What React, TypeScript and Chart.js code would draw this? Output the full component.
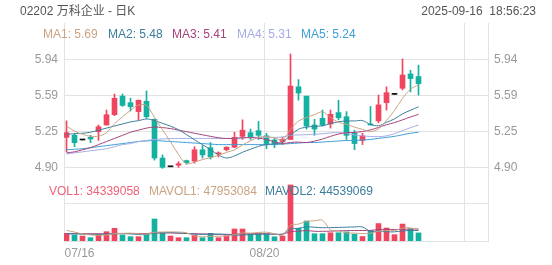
import React, { useEffect, useRef } from 'react';
import { Chart, registerables } from 'chart.js';

Chart.register(...registerables);

const dates = ['07/16','07/17','07/18','07/21','07/22','07/23','07/24','07/25','07/28','07/29','07/30','07/31','08/01','08/04','08/05','08/06','08/07','08/08','08/11','08/12','08/13','08/14','08/15','08/18','08/19','08/20','08/21','08/22','08/25','08/26','08/27','08/28','08/29','09/01','09/02','09/03','09/04','09/05','09/08','09/09','09/10','09/11','09/12','09/15','09/16'];

const opens = [5.19,5.21,5.165,5.19,5.245,5.31,5.41,5.59,5.526,5.44,5.54,5.365,4.99,4.905,4.92,4.965,4.96,5.07,5.09,5.03,5.07,5.095,5.2,5.235,5.255,5.205,5.165,5.15,5.17,5.68,5.59,5.31,5.375,5.32,5.43,5.39,5.23,5.16,5.32,5.35,5.526,5.607,5.666,5.805,5.78];
const highs = [5.35,5.23,5.165,5.21,5.31,5.455,5.61,5.61,5.57,5.552,5.64,5.37,5.02,4.905,4.955,4.97,5.1,5.11,5.14,5.05,5.1,5.24,5.36,5.27,5.345,5.23,5.18,5.19,5.998,5.75,5.59,5.365,5.455,5.455,5.55,5.44,5.26,5.23,5.49,5.6,5.68,5.607,5.95,5.84,5.89];
const lows = [5.05,5.1,5.165,5.14,5.16,5.31,5.4,5.49,5.445,5.36,5.375,4.97,4.89,4.905,4.9,4.93,4.94,4.99,4.98,5.0,5.06,5.09,5.17,5.17,5.17,5.08,5.09,5.12,5.17,5.55,5.27,5.21,5.3,5.28,5.36,5.17,5.07,5.12,5.31,5.33,5.455,5.607,5.65,5.63,5.6];
const closes = [5.236,5.139,5.165,5.175,5.293,5.41,5.569,5.5,5.487,5.55,5.39,4.99,4.9,4.905,4.935,4.945,5.07,5.02,5.0,5.04,5.095,5.19,5.26,5.195,5.21,5.13,5.13,5.17,5.688,5.62,5.3,5.27,5.31,5.414,5.38,5.21,5.13,5.205,5.31,5.505,5.623,5.607,5.795,5.76,5.71];

const volumes = [32.7e6,25.5e6,21e6,14e6,28e6,39.6e6,54e6,25.5e6,18.4e6,18.4e6,28e6,93.5e6,32.7e6,21e6,14e6,14e6,25.5e6,14e6,32.7e6,14e6,22.5e6,51e6,51e6,28.5e6,28.5e6,28.5e6,18e6,21e6,238e6,54e6,85e6,31e6,31e6,35e6,35e6,38.6e6,29e6,19e6,45e6,74e6,55e6,27e6,72e6,51.5e6,34339058];

const ma1 = [5.30,5.25,5.22,5.20,5.202,5.236,5.322,5.389,5.452,5.503,5.499,5.383,5.263,5.147,5.024,4.935,4.951,4.975,4.994,5.015,5.045,5.069,5.117,5.156,5.19,5.197,5.185,5.167,5.266,5.348,5.382,5.41,5.438,5.383,5.335,5.317,5.289,5.268,5.247,5.272,5.355,5.45,5.568,5.658,5.699];
const ma2 = [5.22,5.225,5.23,5.24,5.26,5.28,5.30,5.32,5.34,5.352,5.368,5.353,5.326,5.299,5.264,5.217,5.167,5.119,5.071,5.02,4.99,5.01,5.046,5.075,5.103,5.121,5.127,5.142,5.211,5.269,5.289,5.297,5.302,5.324,5.341,5.349,5.349,5.353,5.315,5.303,5.336,5.369,5.418,5.453,5.486];
const ma3 = [5.04,5.05,5.07,5.09,5.12,5.15,5.18,5.21,5.24,5.26,5.28,5.29,5.285,5.275,5.26,5.245,5.23,5.215,5.2,5.186,5.179,5.181,5.186,5.187,5.183,5.169,5.147,5.131,5.141,5.144,5.14,5.154,5.174,5.2,5.222,5.235,5.238,5.247,5.263,5.286,5.313,5.333,5.36,5.388,5.413];
const ma4 = [5.03,5.04,5.05,5.06,5.07,5.08,5.1,5.12,5.13,5.15,5.16,5.17,5.175,5.178,5.18,5.18,5.18,5.18,5.18,5.18,5.18,5.18,5.185,5.19,5.19,5.19,5.19,5.195,5.21,5.214,5.216,5.22,5.225,5.233,5.236,5.229,5.214,5.205,5.199,5.197,5.205,5.226,5.255,5.284,5.31];
const ma5 = [5.07,5.075,5.08,5.09,5.1,5.11,5.12,5.13,5.14,5.15,5.155,5.16,5.155,5.15,5.145,5.14,5.135,5.13,5.125,5.12,5.12,5.12,5.12,5.12,5.12,5.12,5.12,5.125,5.13,5.135,5.14,5.14,5.145,5.15,5.155,5.16,5.16,5.165,5.17,5.18,5.19,5.2,5.215,5.23,5.24];

const mavol1 = [45e6,38e6,30e6,26e6,24.2e6,25.6e6,31.3e6,32.2e6,33.1e6,31.2e6,28.9e6,36.8e6,38.2e6,38.7e6,37.8e6,35e6,21.4e6,17.7e6,20e6,20e6,21.7e6,26.8e6,34.2e6,33.4e6,36.3e6,37.5e6,30.9e6,24.9e6,66.8e6,71.9e6,83.2e6,85.8e6,87.8e6,47.2e6,43.4e6,34.1e6,33.7e6,31.3e6,33.3e6,41.1e6,44.4e6,44e6,54.6e6,55.9e6,47953084];
const mavol2 = [30e6,30e6,29e6,28e6,28e6,29e6,30e6,31e6,30e6,27.7e6,27.2e6,34e6,35.2e6,35.9e6,34.5e6,32e6,29.1e6,28e6,29.4e6,28.9e6,28.4e6,24.1e6,26e6,26.7e6,28.2e6,29.6e6,28.9e6,29.6e6,50.1e6,54.1e6,60.4e6,58.4e6,56.4e6,57e6,57.7e6,58.7e6,59.8e6,59.6e6,40.3e6,42.3e6,39.3e6,38.9e6,43e6,44.6e6,44539069];
const mavol3 = [32e6,32e6,31e6,31e6,31e6,31e6,32e6,32e6,32e6,32e6,32e6,34e6,34e6,34e6,33e6,32e6,31e6,30e6,29e6,28.3e6,27.8e6,29.1e6,30.6e6,31.3e6,31.3e6,30.8e6,29e6,28.8e6,39.7e6,41.5e6,44.4e6,41.2e6,41.2e6,41.9e6,42.9e6,44.1e6,44.3e6,44.6e6,45.2e6,48.2e6,49.8e6,48.6e6,49.7e6,50.8e6,51.1e6];

const priceTicks = [4.9, 5.2467, 5.5933, 5.94];
const priceTickLabels = ['4.90', '5.25', '5.59', '5.94'];
const volTicks = [25.5e6, 157180761];
const volTickLabels = ['亿股', '157180761'];
const xTickIndices = [0, 25, 50];
const xTickLabels = [dates[0], dates[25], ''];

const maLegendNames = ['MA1', 'MA2', 'MA3', 'MA4', 'MA5'];
const maLegendValues = ['5.69', '5.48', '5.41', '5.31', '5.24'];
const volLegendNames = ['VOL1', 'MAVOL1', 'MAVOL2'];
const volLegendValues = ['34339058', '47953084', '44539069'];
const titleText = '02202 万科企业 - 日K';
const timeText = '2025-09-16  18:56:23';

const RED = '#f0455f';
const TEAL = '#14b1a0';
const DOJI = '#111111';
const MA_COLORS = ['#c9a383', '#3b7d9c', '#a8427a', '#a5ace6', '#3d9fd6'];
const VOL_LEGEND_COLORS = ['#f06277', '#c9a383', '#3b7d9c'];
const GRID = '#e3e3e3';
const FONT = '"Liberation Sans", Arial, "Noto Sans CJK SC", sans-serif';

const X_MIN = -0.3125;
const X_MAX = 52.6875;
const PRICE_MIN = 4.1857;
const PRICE_MAX = 6.2986;
const VOL_MAX = 926.09e6;

const texts = {
  id: 'texts',
  afterDraw(chart: any) {
    const ctx = chart.ctx;
    ctx.save();
    ctx.font = '12px ' + FONT;
    ctx.textBaseline = 'middle';
    ctx.textAlign = 'left';
    ctx.fillStyle = '#555';
    ctx.fillText(titleText, 20, 12);
    ctx.textAlign = 'right';
    ctx.fillText(timeText, 536, 12);
    ctx.textAlign = 'left';
    const maX = [43, 108, 172, 237, 301];
    maLegendNames.forEach((n, i) => {
      ctx.fillStyle = MA_COLORS[i];
      ctx.fillText(n + ': ' + maLegendValues[i], maX[i], 35);
    });
    const vX = [49, 149, 265];
    volLegendNames.forEach((n, i) => {
      ctx.fillStyle = VOL_LEGEND_COLORS[i];
      ctx.fillText(n + ': ' + volLegendValues[i], vX[i], 192);
    });
    ctx.restore();
  },
};

export default function App() {
  const ref = useRef<HTMLCanvasElement>(null);
  useEffect(() => {
    if (!ref.current) return;
    const colors = opens.map((o, i) => (closes[i] === o ? DOJI : closes[i] > o ? RED : TEAL));
    const volColors = opens.map((o, i) => (closes[i] >= o ? RED : TEAL));
    const line = (data: number[], color: string, axis: string) => ({
      type: 'line' as const,
      data: data.map((v, i) => ({ x: i, y: v })),
      borderColor: color,
      borderWidth: 1,
      pointRadius: 0,
      tension: 0.35,
      yAxisID: axis,
      order: 1,
    });
    const tickFont = { family: FONT, size: 12 };
    const chart = new Chart(ref.current, {
      type: 'bar',
      data: {
        datasets: [
          {
            type: 'bar',
            data: lows.map((l, i) => ({ x: i, y: [l, highs[i]] })) as any,
            backgroundColor: colors,
            barThickness: 1,
            grouped: false,
            yAxisID: 'y',
            order: 3,
          },
          {
            type: 'bar',
            data: opens.map((o, i) => ({ x: i, y: [o, closes[i]] })) as any,
            backgroundColor: colors,
            barThickness: 5,
            minBarLength: 1,
            grouped: false,
            yAxisID: 'y',
            order: 2,
          },
          {
            type: 'bar',
            data: volumes.map((v, i) => ({ x: i, y: v })) as any,
            backgroundColor: volColors,
            barThickness: 5,
            grouped: false,
            yAxisID: 'yv',
            order: 2,
          },
          line(ma1, MA_COLORS[0], 'y'),
          line(ma2, MA_COLORS[1], 'y'),
          line(ma3, MA_COLORS[2], 'y'),
          line(ma4, MA_COLORS[3], 'y'),
          line(ma5, MA_COLORS[4], 'y'),
          line(mavol1, MA_COLORS[0], 'yv'),
          line(mavol2, MA_COLORS[1], 'yv'),
          line(mavol3, MA_COLORS[2], 'yv'),
        ] as any,
      },
      options: {
        animation: false,
        responsive: true,
        maintainAspectRatio: false,
        events: [],
        layout: { padding: { top: 23 } },
        plugins: { legend: { display: false }, tooltip: { enabled: false } },
        scales: {
          x: {
            type: 'linear',
            min: X_MIN,
            max: X_MAX,
            offset: false,
            afterBuildTicks: (s: any) => {
              s.ticks = xTickIndices.map((i) => ({ value: i - 0.25 }));
            },
            afterFit: (s: any) => {
              s.height = 24;
            },
            grid: { color: GRID, drawTicks: false, offset: false },
            border: { display: true, color: GRID },
            ticks: {
              align: 'inner',
              autoSkip: false,
              maxRotation: 0,
              padding: 5,
              color: '#999',
              font: tickFont,
              callback: (_v: any, idx: number) => xTickLabels[idx],
            },
          },
          y: {
            type: 'linear',
            position: 'left',
            min: PRICE_MIN,
            max: PRICE_MAX,
            weight: 1,
            afterBuildTicks: (s: any) => {
              s.ticks = priceTicks.map((v) => ({ value: v }));
            },
            afterFit: (s: any) => {
              s.width = 64;
            },
            grid: { color: GRID, drawTicks: false },
            border: { display: false },
            ticks: {
              padding: 6,
              color: '#999',
              font: tickFont,
              callback: (_v: any, idx: number) => priceTickLabels[idx],
            },
          },
          yv: {
            type: 'linear',
            position: 'left',
            min: 0,
            max: VOL_MAX,
            weight: 0,
            afterBuildTicks: (s: any) => {
              s.ticks = volTicks.map((v) => ({ value: v }));
            },
            afterFit: (s: any) => {
              s.width = 0;
            },
            grid: {
              drawTicks: false,
              color: (c: any) => (c.tick && c.tick.value === volTicks[1] ? GRID : 'rgba(0,0,0,0)'),
            },
            border: { display: false },
            ticks: {
              padding: 6,
              color: '#999',
              font: tickFont,
              callback: (_v: any, idx: number) => volTickLabels[idx],
            },
          },
          yR: {
            type: 'linear',
            position: 'right',
            min: PRICE_MIN,
            max: PRICE_MAX,
            weight: 1,
            afterBuildTicks: (s: any) => {
              s.ticks = priceTicks.map((v) => ({ value: v }));
            },
            afterFit: (s: any) => {
              s.width = 64;
            },
            grid: { display: false, drawTicks: false },
            border: { display: true, color: GRID },
            ticks: {
              padding: 6,
              color: '#999',
              font: tickFont,
              callback: (_v: any, idx: number) => priceTickLabels[idx],
            },
          },
          yvR: {
            type: 'linear',
            position: 'right',
            min: 0,
            max: VOL_MAX,
            weight: 0,
            afterBuildTicks: (s: any) => {
              s.ticks = volTicks.map((v) => ({ value: v }));
            },
            afterFit: (s: any) => {
              s.width = 0;
            },
            grid: { display: false, drawTicks: false },
            border: { display: false },
            ticks: {
              padding: 6,
              color: '#999',
              font: tickFont,
              callback: (_v: any, idx: number) => volTickLabels[idx],
            },
          },
        },
      } as any,
      plugins: [texts],
    });
    return () => chart.destroy();
  }, []);
  return (
    <div style={{ position: 'absolute', left: 0, top: 0, width: 552, height: 265, background: '#fff' }}>
      <canvas ref={ref} />
    </div>
  );
}
